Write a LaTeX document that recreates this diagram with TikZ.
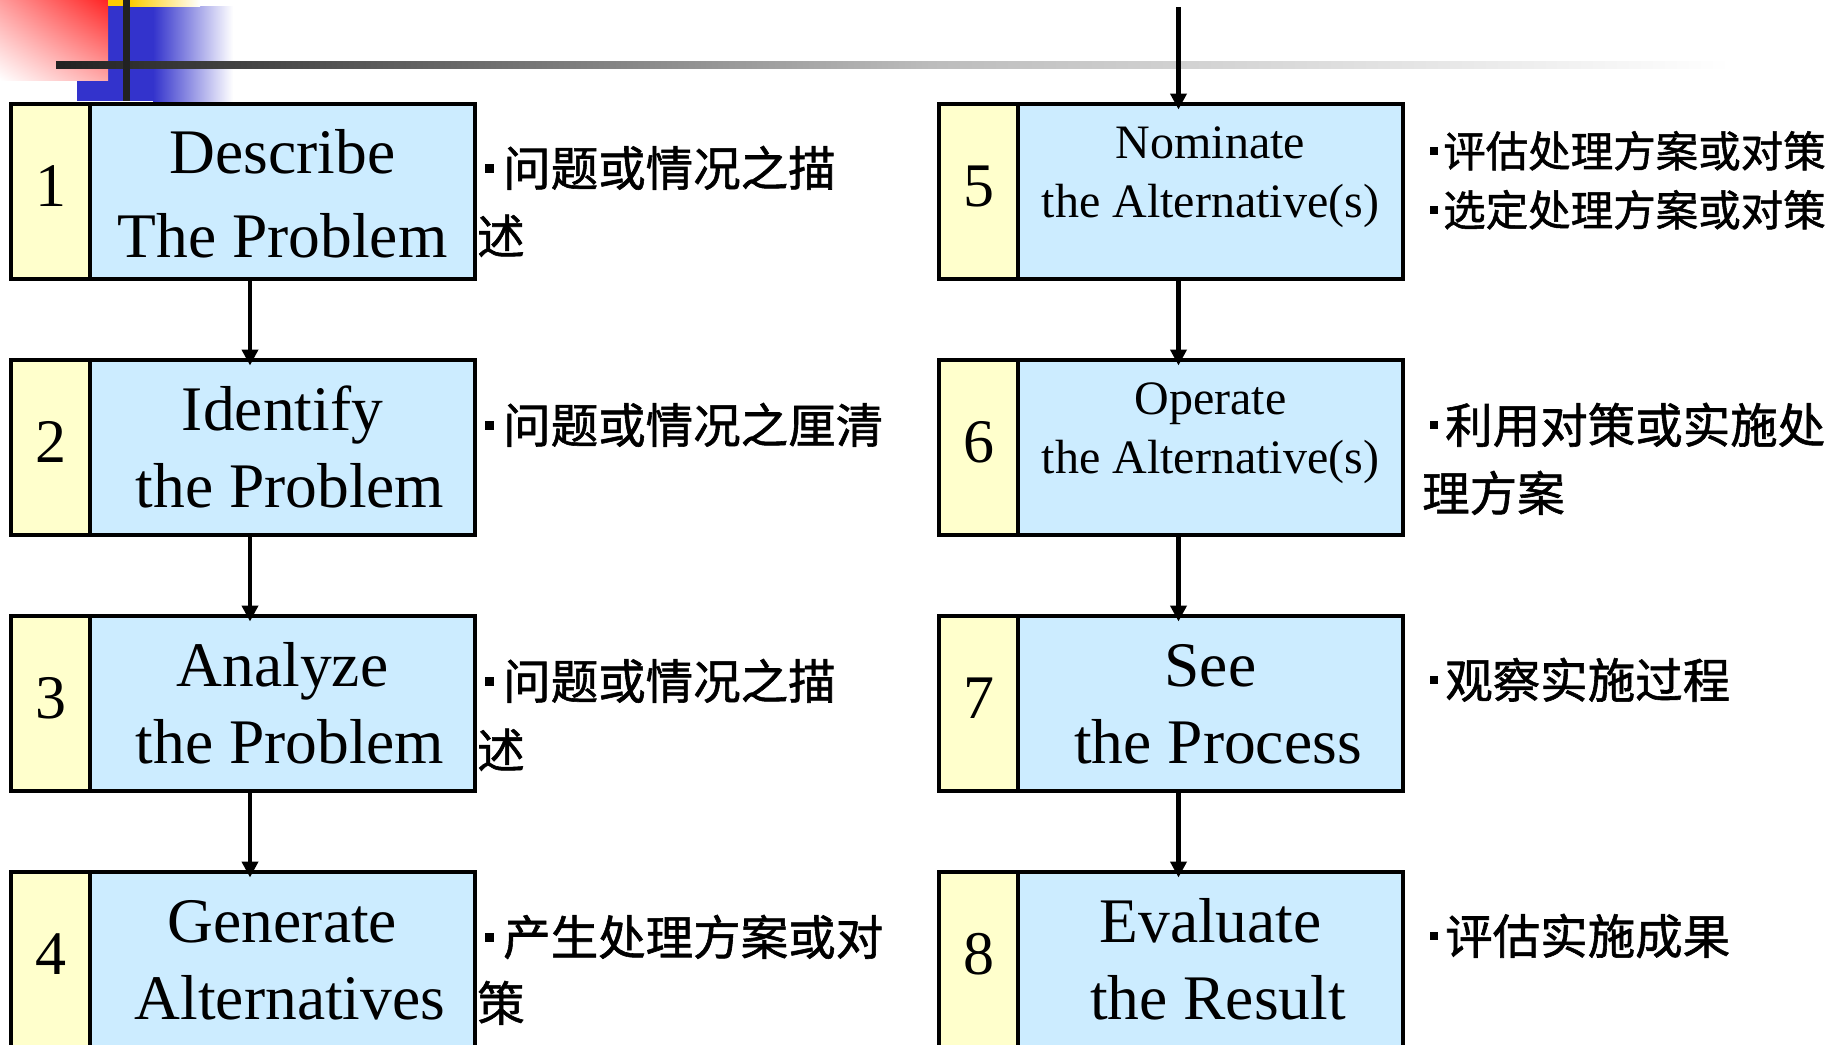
\documentclass[tikz,border=0pt]{standalone}
\usepackage{fontspec}
\setmainfont{Liberation Serif}
\newfontfamily\cjk[FakeBold=1.2]{Noto Sans CJK SC}
\usetikzlibrary{arrows.meta,shadings}
\definecolor{stripc}{RGB}{255,255,204}
\definecolor{boxc}{RGB}{204,236,255}
\definecolor{redc}{RGB}{255,36,36}
\definecolor{bluec}{RGB}{51,51,204}
\definecolor{yelc}{RGB}{255,204,0}
\definecolor{linec}{RGB}{34,34,34}
\definecolor{linemid}{RGB}{188,188,188}
\newcommand\sqbul[2]{\rule[#1]{#2}{#2}}
\begin{document}
\begin{tikzpicture}[x=1pt,y=-1pt,
  numbox/.style={draw=black,line width=4pt,fill=stripc,minimum width=79pt,minimum height=175pt,inner sep=0pt,outer sep=0pt,anchor=north west},
  mainbox/.style={draw=black,line width=4pt,fill=boxc,minimum width=385pt,minimum height=175pt,inner sep=0pt,outer sep=0pt,anchor=north west},
  numtxt/.style={font=\fontsize{62}{62}\selectfont,inner sep=0pt,anchor=base},
  bigtxt/.style={font=\fontsize{63.5}{63.5}\selectfont,inner sep=0pt,anchor=base},
  midtxt/.style={font=\fontsize{48}{48}\selectfont,inner sep=0pt,anchor=base},
  cjktxt/.style={font=\cjk\fontsize{47.5}{47.5}\selectfont,inner sep=0pt,anchor=base west},
  cjksm/.style={font=\cjk\fontsize{42.5}{42.5}\selectfont,inner sep=0pt,anchor=base west},
  arr/.style={line width=4.5pt,shorten >=-6pt,-{Triangle[width=16pt,length=16pt]}}
]
\useasboundingbox (0,0) rectangle (1841,1044);
\clip (0,0) rectangle (1841,1044);

% top-left decoration
\fill[bluec] (77,6) rectangle (153,101);
\shade[left color=bluec,right color=white] (153,6) rectangle (233,101);
\shade[upper right=redc,lower left=white,upper left=redc!45!white,lower right=redc!40!white] (0,0) rectangle (108,80);
\fill[yelc] (108,0) rectangle (130,6);
\shade[left color=yelc,right color=white] (130,0) rectangle (200,6);
\shade[left color=linec,right color=linemid] (56,61) rectangle (930,68);
\shade[left color=linemid,right color=white] (930,61) rectangle (1730,68);
\fill[linec] (123,0) rectangle (130,101);

% left column boxes
\node[numbox] (s1) at (11,103.5) {};
\node[mainbox] (m1) at (90,103.5) {};
\node[numbox] (s2) at (11,359.5) {};
\node[mainbox] (m2) at (90,359.5) {};
\node[numbox] (s3) at (11,615.5) {};
\node[mainbox] (m3) at (90,615.5) {};
\node[numbox] (s4) at (11,871.5) {};
\node[mainbox] (m4) at (90,871.5) {};
% right column boxes
\node[numbox] (s5) at (939,103.5) {};
\node[mainbox] (m5) at (1018,103.5) {};
\node[numbox] (s6) at (939,359.5) {};
\node[mainbox] (m6) at (1018,359.5) {};
\node[numbox] (s7) at (939,615.5) {};
\node[mainbox] (m7) at (1018,615.5) {};
\node[numbox] (s8) at (939,871.5) {};
\node[mainbox] (m8) at (1018,871.5) {};

% numbers
\node[numtxt] (n1) at (50.5,206.5) {1};
\node[numtxt] (n2) at (50.5,462.5) {2};
\node[numtxt] (n3) at (50.5,718.5) {3};
\node[numtxt] (n4) at (50.5,974.5) {4};
\node[numtxt] (n5) at (978.5,206.5) {5};
\node[numtxt] (n6) at (978.5,462.5) {6};
\node[numtxt] (n7) at (978.5,718.5) {7};
\node[numtxt] (n8) at (978.5,974.5) {8};

% box texts
\node[bigtxt] (t1a) at (282.5,173.5) {Describe};
\node[bigtxt] (t1b) at (282.5,257) {The Problem};
\node[bigtxt] (t2a) at (282.5,430.5) {Identify};
\node[bigtxt] (t2b) at (290,507.5) {the Problem};
\node[bigtxt] (t3a) at (282.5,686.5) {Analyze};
\node[bigtxt] (t3b) at (290,763.5) {the Problem};
\node[bigtxt] (t4a) at (282.5,942.5) {Generate};
\node[bigtxt] (t4b) at (290,1019.5) {Alternatives};
\node[midtxt] (t5a) at (1210.5,158.5) {Nominate};
\node[midtxt] (t5b) at (1210.5,217.5) {the Alternative(s)};
\node[midtxt] (t6a) at (1210.5,414.5) {Operate};
\node[midtxt] (t6b) at (1210.5,473.5) {the Alternative(s)};
\node[bigtxt] (t7a) at (1210.5,686.5) {See};
\node[bigtxt] (t7b) at (1218,763.5) {the Process};
\node[bigtxt] (t8a) at (1210.5,942.5) {Evaluate};
\node[bigtxt] (t8b) at (1218,1019.5) {the Result};

% chinese notes
\node[cjktxt] (c1a) at (479,186) {\hspace*{6pt}\sqbul{13.4pt}{9pt}\hspace*{9pt}问题或情况之描};
\node[cjktxt] (c1b) at (477,254) {述};
\node[cjktxt] (c2a) at (479,443) {\hspace*{6pt}\sqbul{13.4pt}{9pt}\hspace*{9pt}问题或情况之厘清};
\node[cjktxt] (c3a) at (479,699) {\hspace*{6pt}\sqbul{13.4pt}{9pt}\hspace*{9pt}问题或情况之描};
\node[cjktxt] (c3b) at (477,768) {述};
\node[cjktxt] (c4a) at (479,955) {\hspace*{6pt}\sqbul{13.4pt}{9pt}\hspace*{9pt}产生处理方案或对};
\node[cjktxt] (c4b) at (477,1021) {策};
\node[cjksm] (c5a) at (1424,167) {\hspace*{6pt}\sqbul{12pt}{8pt}\hspace*{5pt}评估处理方案或对策};
\node[cjksm] (c5b) at (1424,226) {\hspace*{6pt}\sqbul{12pt}{8pt}\hspace*{5pt}选定处理方案或对策};
\node[cjktxt] (c6a) at (1424,443) {\hspace*{6pt}\sqbul{13.9pt}{8pt}\hspace*{7pt}利用对策或实施处};
\node[cjktxt] (c6b) at (1422,511) {理方案};
\node[cjktxt] (c7a) at (1424,698) {\hspace*{6pt}\sqbul{13.9pt}{8pt}\hspace*{7pt}观察实施过程};
\node[cjktxt] (c8a) at (1424,954) {\hspace*{6pt}\sqbul{13.9pt}{8pt}\hspace*{7pt}评估实施成果};

% arrows
\coordinate (topin) at (1178.5,7);
\draw[arr] (topin) -- (topin |- m5.north);
\draw[arr] ([xshift=-32.5pt]m1.south) -- ([xshift=-32.5pt]m2.north);
\draw[arr] ([xshift=-32.5pt]m2.south) -- ([xshift=-32.5pt]m3.north);
\draw[arr] ([xshift=-32.5pt]m3.south) -- ([xshift=-32.5pt]m4.north);
\draw[arr] ([xshift=-32pt]m5.south) -- ([xshift=-32pt]m6.north);
\draw[arr] ([xshift=-32pt]m6.south) -- ([xshift=-32pt]m7.north);
\draw[arr] ([xshift=-32pt]m7.south) -- ([xshift=-32pt]m8.north);
\end{tikzpicture}
\end{document}
